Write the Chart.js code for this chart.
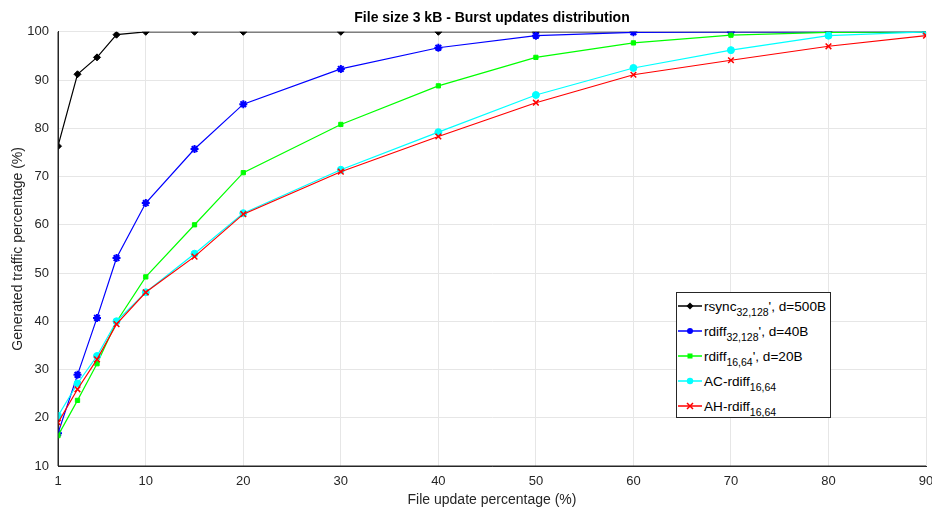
<!DOCTYPE html>
<html>
<head>
<meta charset="utf-8">
<title>File size 3 kB - Burst updates distribution</title>
<script src="https://cdn.jsdelivr.net/npm/chart.js@4"></script>
<style>
  html, body { margin: 0; padding: 0; background: #fff; }
  #wrap { position: relative; width: 932px; height: 509px; overflow: hidden; }
  #legend {
    position: absolute; left: 676px; top: 292px; width: 155px; height: 126px;
    border: 1px solid #262626; background: #fff; box-sizing: border-box;
    font-family: "Liberation Sans", Arial, sans-serif; font-size: 13.6px; color: #000;
  }
  #legend .row { position: absolute; left: 1px; height: 20px; display: flex; align-items: center; white-space: nowrap; }
  #legend svg { width: 24px; height: 12px; margin-right: 2px; flex: none; }
  #legend sub { font-size: 10.5px; vertical-align: -5px; line-height: 0; }
</style>
</head>
<body>
<div id="wrap">
  <canvas id="chart" width="932" height="509"></canvas>
  <div id="legend"></div>
</div>
<script>
(function () {
  'use strict';

  const xValues = [1, 3, 5, 7, 10, 15, 20, 30, 40, 50, 60, 70, 80, 90];
  const xTicks = [1, 10, 20, 30, 40, 50, 60, 70, 80, 90];

  const rsync = [76.3, 91.2, 94.7, 99.4, 100, 100, 100, 100, 100, 100, 100, 100, 100, 100];
  const rdiff32 = [16.8, 28.9, 40.7, 53.1, 64.5, 75.7, 85.0, 92.3, 96.7, 99.2, 99.9, 100, 100, 100];
  const rdiff16 = [16.3, 23.6, 31.2, 39.9, 49.2, 60.0, 70.8, 80.8, 88.8, 94.7, 97.7, 99.3, 99.9, 100];
  const acRdiff = [20.4, 27.1, 32.8, 40.0, 46.0, 54.0, 62.4, 71.4, 79.2, 86.9, 92.5, 96.2, 99.2, 100];
  const ahRdiff = [19.0, 25.9, 32.1, 39.4, 46.0, 53.4, 62.2, 71.0, 78.3, 85.3, 91.1, 94.1, 97.0, 99.2];

  const series = [
    { main: 'rsync', sub: '32,128', tail: '\', d=500B', data: rsync, color: '#000000', style: 'rectRot', r: 3.5 },
    { main: 'rdiff', sub: '32,128', tail: '\', d=40B', data: rdiff32, color: '#0000ff', style: 'star', r: 4 },
    { main: 'rdiff', sub: '16,64', tail: '\', d=20B', data: rdiff16, color: '#00ff00', style: 'rect', r: 3 },
    { main: 'AC-rdiff', sub: '16,64', tail: '', data: acRdiff, color: '#00ffff', style: 'circle', r: 3.5 },
    { main: 'AH-rdiff', sub: '16,64', tail: '', data: ahRdiff, color: '#ff0000', style: 'crossRot', r: 4 }
  ];

  const FONT = '"Liberation Sans", Arial, sans-serif';
  const AXIS = '#262626';
  const GRID = '#e6e6e6';

  const datasets = series.map((s, i) => ({
    label: s.main + s.sub + s.tail,
    data: s.data.map((v, k) => ({ x: xValues[k], y: v })),
    borderColor: s.color,
    backgroundColor: s.color,
    borderWidth: 1.2,
    pointStyle: s.style,
    pointRadius: s.r,
    pointBorderWidth: s.style === 'crossRot' ? 1.5 : (s.style === 'star' ? 2 : 1),
    pointBackgroundColor: s.color,
    pointBorderColor: s.color,
    tension: 0,
    order: series.length - i
  }));

  // left and bottom axis lines drawn over the data, like the MATLAB axes
  const boxPlugin = {
    id: 'axesBox',
    afterDatasetsDraw(chart) {
      const a = chart.chartArea;
      const ctx = chart.ctx;
      ctx.save();
      ctx.strokeStyle = AXIS;
      ctx.lineWidth = 1;
      ctx.beginPath();
      ctx.moveTo(a.left, a.top);
      ctx.lineTo(a.left, a.bottom);
      ctx.lineTo(a.right, a.bottom);
      ctx.stroke();
      ctx.restore();
    }
  };

  new Chart(document.getElementById('chart').getContext('2d'), {
    type: 'line',
    data: { datasets },
    plugins: [boxPlugin],
    options: {
      responsive: false,
      animation: false,
      layout: { padding: { left: 0, right: 4, top: 0, bottom: 0 } },
      plugins: {
        legend: { display: false },
        tooltip: { enabled: false },
        title: {
          display: true,
          fullSize: false,
          text: 'File size 3 kB - Burst updates distribution',
          color: '#000',
          font: { family: FONT, size: 14, weight: 'bold' },
          padding: { top: 10, bottom: 5 }
        }
      },
      scales: {
        x: {
          type: 'linear',
          min: 1,
          max: 90,
          afterBuildTicks(scale) {
            scale.ticks = xTicks.map(v => ({ value: v }));
          },
          afterFit(scale) {
            scale.height = 43;
            scale.paddingLeft = 0;
            scale.paddingRight = 0;
          },
          grid: { color: GRID, drawTicks: false },
          border: { color: AXIS },
          ticks: {
            color: AXIS, padding: 8, maxRotation: 0, autoSkip: false,
            font: { family: FONT, size: 13 }
          },
          title: {
            display: true, text: 'File update percentage (%)', color: AXIS,
            font: { family: FONT, size: 14 }, padding: { top: 3, bottom: 0 }
          }
        },
        y: {
          min: 10,
          max: 100,
          afterFit(scale) {
            scale.width = 58;
          },
          grid: { color: GRID, drawTicks: false },
          border: { color: AXIS },
          ticks: {
            stepSize: 10, color: AXIS, padding: 9,
            font: { family: FONT, size: 13 }
          },
          title: {
            display: true, text: 'Generated traffic percentage (%)', color: AXIS,
            font: { family: FONT, size: 14 }, padding: { top: 10, bottom: 0 }
          }
        }
      }
    }
  });

  function markerSvg(s) {
    const c = s.color;
    let m = '';
    if (s.style === 'rectRot') m = '<polygon points="12,2.5 15.5,6 12,9.5 8.5,6" fill="' + c + '"/>';
    else if (s.style === 'star') m = '<circle cx="12" cy="6" r="3" fill="' + c + '"/>';
    else if (s.style === 'rect') m = '<rect x="9.5" y="3.5" width="5" height="5" fill="' + c + '"/>';
    else if (s.style === 'circle') m = '<circle cx="12" cy="6" r="3.2" fill="' + c + '"/>';
    else m = '<path d="M9,3 L15,9 M15,3 L9,9" stroke="' + c + '" stroke-width="1.5"/>';
    return '<svg viewBox="0 0 24 12"><line x1="0" y1="6" x2="24" y2="6" stroke="' + c + '" stroke-width="1.5"/>' + m + '</svg>';
  }

  const legend = document.getElementById('legend');
  legend.innerHTML = series.map((s, i) =>
    '<div class="row" style="top:' + (3 + i * 25) + 'px">' + markerSvg(s) +
    '<span>' + s.main + '<sub>' + s.sub + '</sub>' + s.tail + '</span></div>'
  ).join('');
})();
</script>
</body>
</html>
